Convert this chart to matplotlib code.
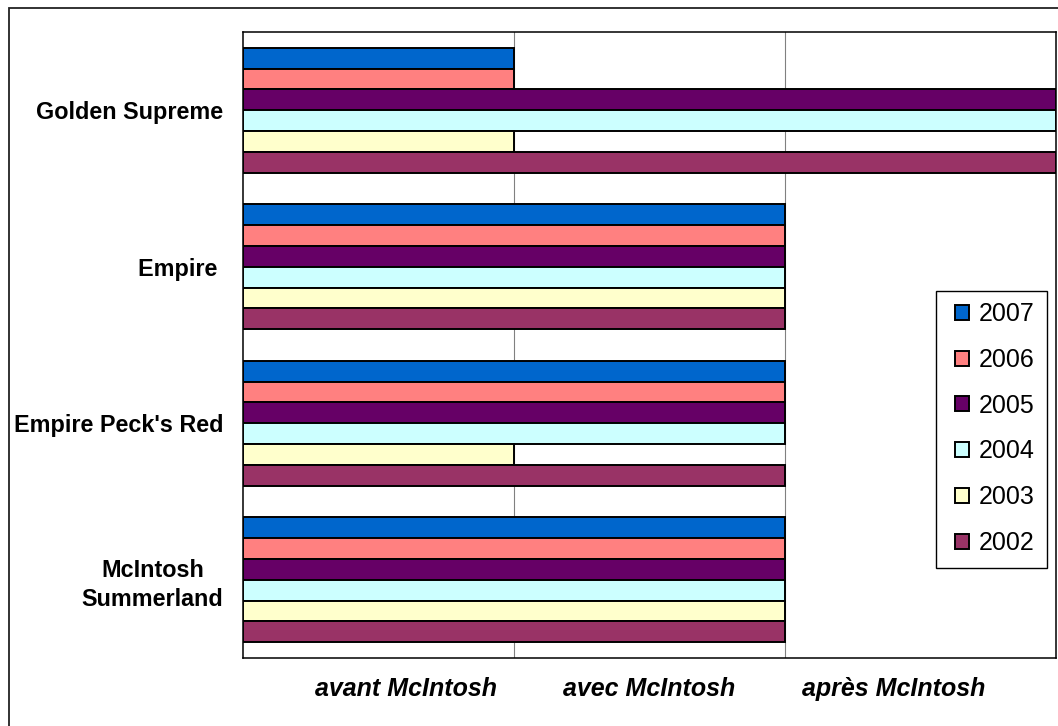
import matplotlib
matplotlib.use("Agg")
import matplotlib.pyplot as plt
from matplotlib.patches import Patch, Rectangle

# Varieties (top to bottom) and pollination stage categories
varieties = ["Golden Supreme", "Empire ", "Empire Peck's Red", "McIntosh\nSummerland"]
stages = ["avant McIntosh", "avec McIntosh", "après McIntosh"]
years = ["2007", "2006", "2005", "2004", "2003", "2002"]

# Bar end = stage index reached (1 = avant, 2 = avec, 3 = après)
v2007 = [1, 2, 2, 2]
v2006 = [1, 2, 2, 2]
v2005 = [3, 2, 2, 2]
v2004 = [3, 2, 2, 2]
v2003 = [1, 2, 1, 2]
v2002 = [3, 2, 2, 2]

series = [v2007, v2006, v2005, v2004, v2003, v2002]
colors = ["#0066CC", "#FF8080", "#660066", "#CCFFFF", "#FFFFCC", "#993366"]

W, H = 1058, 726
fig = plt.figure(figsize=(W / 100, H / 100), dpi=100)
fig.patch.set_facecolor("white")

# Outer chart frame
fig.patches.append(Rectangle((9 / W, -0.05), 1.2, 1 - 8 / H + 0.05,
                             transform=fig.transFigure, fill=False,
                             edgecolor="#222222", linewidth=1.3, zorder=0))

ax = fig.add_axes([243 / W, 1 - 658 / H, (1056 - 243) / W, (658 - 32) / H])

n = len(series)
h = 0.8 / n
for j, (vals, col, yr) in enumerate(zip(series, colors, years)):
    ys = [i - 0.4 + h * (j + 0.5) for i in range(len(varieties))]
    ax.barh(ys, vals, height=h, color=col, edgecolor="black",
            linewidth=1.4, label=yr, zorder=3)

ax.set_xlim(0, 3)
ax.set_ylim(len(varieties) - 0.5, -0.5)

# Vertical gridlines at stage boundaries
for xv in (1, 2):
    ax.axvline(xv, color="#808080", linewidth=0.8, zorder=1)

ax.set_yticks(range(len(varieties)))
ax.set_yticklabels(varieties, fontsize=16.8, fontweight="bold",
                   family="Liberation Sans", linespacing=1.3)
for lab in ax.get_yticklabels():
    lab.set_multialignment("center")

ax.set_xticks([0.6, 1.5, 2.4])
ax.set_xticklabels(stages, fontsize=18, fontweight="bold", fontstyle="italic",
                   family="Liberation Sans")
ax.tick_params(axis="both", length=0)
ax.tick_params(axis="y", pad=14)
ax.tick_params(axis="x", pad=14)

for sp in ax.spines.values():
    sp.set_color("black")
    sp.set_linewidth(1.1)

# Legend box drawn as a plain rectangle, entries placed inside it
fig.patches.append(Rectangle((936 / W, 1 - 568 / H), (1047 - 936) / W,
                             (568 - 291) / H, transform=fig.transFigure,
                             facecolor="white", edgecolor="black",
                             linewidth=1.0, zorder=4))
handles = [Patch(facecolor=c, edgecolor="black", linewidth=1.4) for c in colors]
leg = fig.legend(handles, years, loc="center left",
                 bbox_to_anchor=(955 / W, 1 - 428.5 / H),
                 bbox_transform=fig.transFigure, borderaxespad=0,
                 prop={"family": "Liberation Sans", "size": 18},
                 handlelength=0.55, handleheight=0.55, handletextpad=0.4,
                 labelspacing=0.87, borderpad=0, frameon=False)
leg.set_zorder(5)

fig.savefig("out.png", dpi=100, facecolor="white")
